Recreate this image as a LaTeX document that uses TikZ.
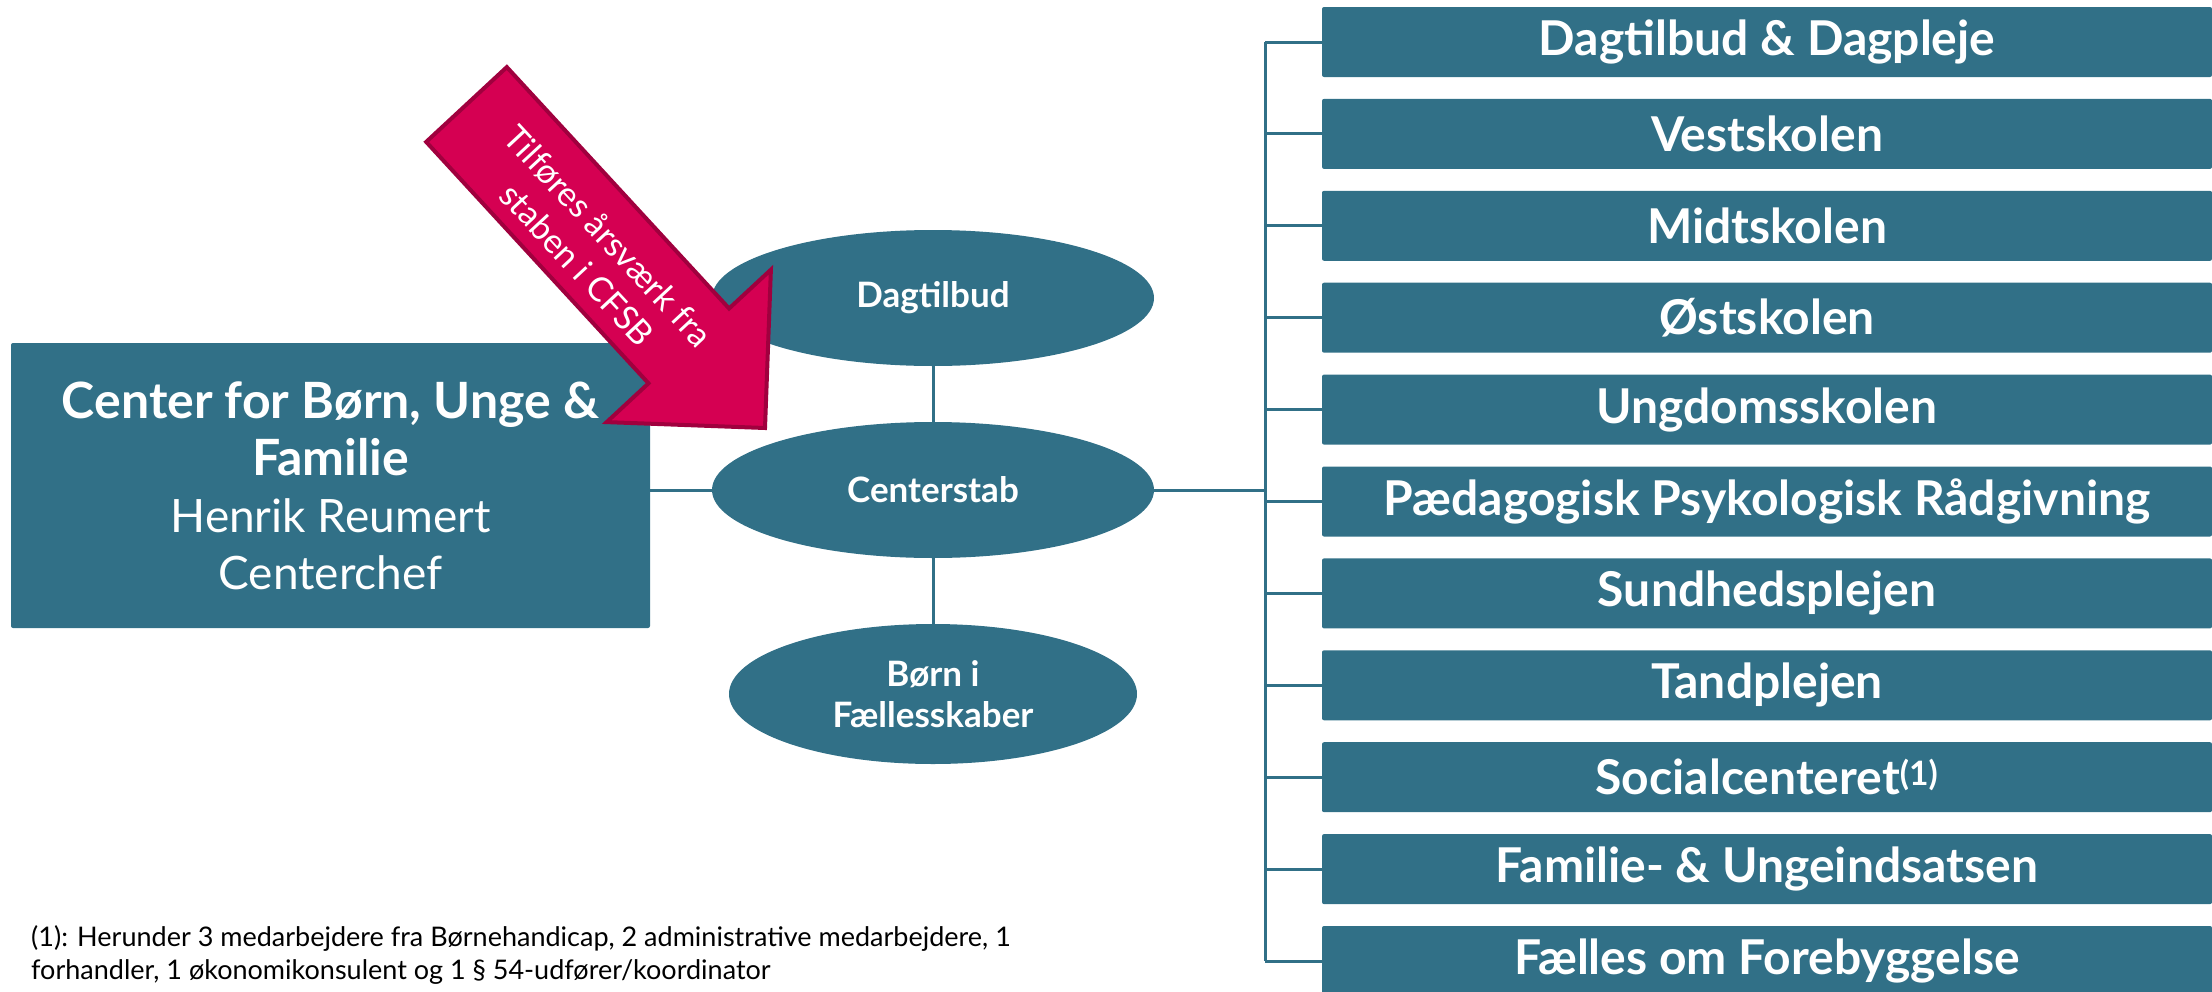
\documentclass[tikz,border=0pt]{standalone}
\usepackage{fontspec}
\setmainfont{Lato}
\usepackage{xcolor}
\definecolor{CenterTeal}{HTML}{317087}
\definecolor{PushRed}{HTML}{D50052}
\definecolor{PushDark}{HTML}{A0003E}
\usepackage{tikz}
\usetikzlibrary{shapes,positioning}
\newcommand\UnitX{1767}
\newcommand\UnitTop{42}
\newcommand\UnitPitch{91.9}
\newcommand\StabX{933}
\newcommand\BusX{1265}
\tikzstyle{unit}=[rectangle,rounded corners=2pt,fill=CenterTeal,text=white,text centered,
                  font=\bfseries\fontsize{48}{56}\selectfont,minimum height=70pt,minimum width=890pt]
\tikzstyle{staff}=[ellipse,fill=CenterTeal,text=white,align=center,inner sep=0pt,
                  font=\bfseries\fontsize{35}{41}\selectfont,minimum width=442pt,minimum height=136pt]
\tikzstyle{chief}=[rectangle,rounded corners=2pt,fill=CenterTeal,text=white,align=center,
                  font=\fontsize{46}{57}\selectfont,minimum width=639pt,minimum height=285pt]
\tikzstyle{link}=[draw=CenterTeal,line width=3pt]
\tikzstyle{push}=[fill=PushRed,draw=PushDark,line width=4pt,line join=miter]

\begin{document}
\begin{tikzpicture}[x=1pt,y=-1pt]
      \useasboundingbox (0,0) rectangle (2212,991);
      % left: the centre itself
      \node[chief] (chief) at (330.5,485.5) {{\bfseries\fontsize{50}{57}\selectfont Center for Børn, Unge \&}\\{\bfseries\fontsize{50}{57}\selectfont Familie}\\Henrik Reumert\\Centerchef};
      % middle: staff ellipses
      \node[staff] (dagtilbud) at (\StabX,298) {Dagtilbud};
      \node[staff] (stab) at (\StabX,490) {Centerstab};
      \node[staff,minimum width=408pt,minimum height=140pt] (boern) at (\StabX,694) {Børn i\\Fællesskaber};
      % right: the units
      \node[unit] (dagpleje) at (\UnitX,\UnitTop+\UnitPitch*0) {Dagtilbud \& Dagpleje};
      \node[unit] (vest) at (\UnitX,\UnitTop+\UnitPitch*1) {Vestskolen};
      \node[unit] (midt) at (\UnitX,\UnitTop+\UnitPitch*2) {Midtskolen};
      \node[unit] (oest) at (\UnitX,\UnitTop+\UnitPitch*3) {Østskolen};
      \node[unit] (ungdom) at (\UnitX,\UnitTop+\UnitPitch*4) {Ungdomsskolen};
      \node[unit] (ppr) at (\UnitX,\UnitTop+\UnitPitch*5) {Pædagogisk Psykologisk Rådgivning};
      \node[unit] (sundhed) at (\UnitX,\UnitTop+\UnitPitch*6) {Sundhedsplejen};
      \node[unit] (tand) at (\UnitX,\UnitTop+\UnitPitch*7) {Tandplejen};
      \node[unit] (social) at (\UnitX,\UnitTop+\UnitPitch*8) {Socialcenteret\textsuperscript{(1)}};
      \node[unit] (familie) at (\UnitX,\UnitTop+\UnitPitch*9) {Familie- \& Ungeindsatsen};
      \node[unit] (faelles) at (\UnitX,\UnitTop+\UnitPitch*10) {Fælles om Forebyggelse};
      % connectors
      \coordinate (bus) at (\BusX,490);
      \draw[link] (dagtilbud.south) -- (stab.north);
      \draw[link] (stab.south) -- (boern.north);
      \draw[link] (chief.east |- stab.west) -- (stab.west);
      \draw[link] (stab.east) -- (bus);
      \draw[link] (bus |- dagpleje.west) -- (bus |- faelles.west);
      \draw[link] (bus |- dagpleje.west) -- (dagpleje.west);
      \draw[link] (bus |- vest.west) -- (vest.west);
      \draw[link] (bus |- midt.west) -- (midt.west);
      \draw[link] (bus |- oest.west) -- (oest.west);
      \draw[link] (bus |- ungdom.west) -- (ungdom.west);
      \draw[link] (bus |- ppr.west) -- (ppr.west);
      \draw[link] (bus |- sundhed.west) -- (sundhed.west);
      \draw[link] (bus |- tand.west) -- (tand.west);
      \draw[link] (bus |- social.west) -- (social.west);
      \draw[link] (bus |- familie.west) -- (familie.west);
      \draw[link] (bus |- faelles.west) -- (faelles.west);
      % the red arrow
      \draw[push] (506.8,67.1) -- (729.1,308.5) -- (770.9,269.7) -- (765,428)
                  -- (606.7,422.1) -- (648.5,383.3) -- (426.2,141.9) -- cycle;
      \node[rotate=-47.1,text=white,align=center,font=\fontsize{34}{42}\selectfont] (pushtext) at (593,250) {Tilføres årsværk fra\\staben i CFSB};
      % footnote
      \node[anchor=north west,inner sep=0pt,align=left,font=\fontsize{27}{33}\selectfont] (note) at (31,925)
            {(1): Herunder 3 medarbejdere fra Børnehandicap, 2 administrative medarbejdere, 1\\forhandler, 1 økonomikonsulent og 1 § 54-udfører/koordinator};
   \end{tikzpicture}
\end{document}
